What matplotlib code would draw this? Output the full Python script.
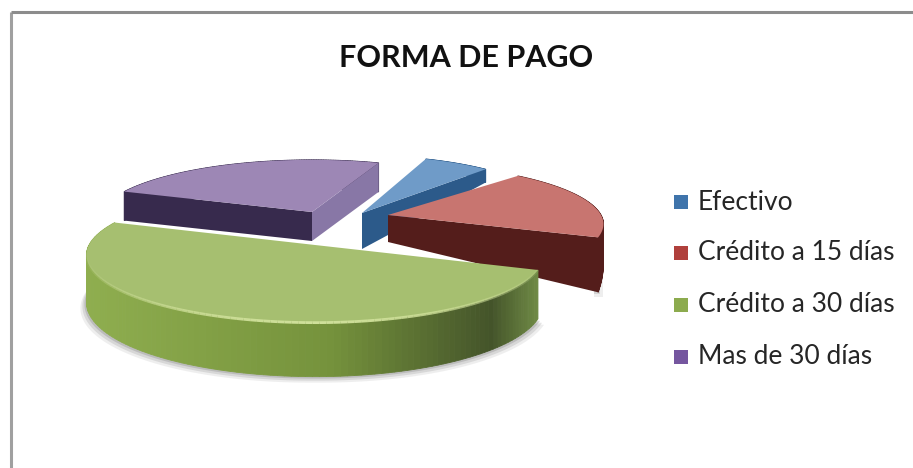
import numpy as np
import matplotlib
matplotlib.use('Agg')
import matplotlib.pyplot as plt
from matplotlib.colors import to_rgb

# Data
labels = ['Efectivo', 'Crédito a 15 días', 'Crédito a 30 días', 'Mas de 30 días']
values = [6, 19, 50, 25]
title = 'FORMA DE PAGO'

# Colours
top_colors = ['#6f9bc8', '#c87570', '#a6bf70', '#9d87b5']
wall_colors = ['#2c5a8a', '#541d1b', '#6d8a3a', '#372a4d']
legend_colors = ['#3f74ab', '#b0403c', '#8cab4e', '#75569f']

# Each slice is pulled apart by hand: apex x/y, x radius, y radius, height at apex, height change
slice_style = [
    (362, 213, 203, 66, 36, 31),
    (388, 215, 213, 59, 27, 78),
    (315, 245, 226, 66, 46, 8),
    (312, 212, 212, 60, 29, 0),
]
start_angle = 69
persp = 0.15

fig = plt.figure(figsize=(9.13, 4.68), dpi=100)
ax = fig.add_axes([0, 0, 1, 1])
ax.set_xlim(0, 913)
ax.set_ylim(468, 0)
ax.axis('off')

# Frame of the pasted chart
ax.plot([11, 11], [12, 468], color='#a0a0a0', lw=2.2, solid_capstyle='butt')
ax.plot([11, 913], [12, 12], color='#8c8c8c', lw=2.2, solid_capstyle='butt')


def project(style, t, down=False):
    cx, cy, a, b, h, dh = style
    x = np.cos(t)
    y = np.sin(t)
    s = 1 / (1 + persp * y)
    px = cx + a * x * s
    py = cy - b * y * s
    if down:
        py = py + np.maximum(h - dh * y, 4)
    return px, py


def mix(c1, c2, f):
    c1 = np.array(to_rgb(c1))
    c2 = np.array(to_rgb(c2))
    return tuple(c1 + (c2 - c1) * f)


# Angles come from the values, clockwise from the start angle
ends = start_angle - np.cumsum(values) * 3.6
starts = np.concatenate([[start_angle], ends[:-1]])

# Soft shadow below the big slice
green = slice_style[2]
t_sh = np.radians(np.linspace(starts[2], ends[2], 120))
for grow, alpha in [(6, 0.10), (4, 0.16), (2, 0.22)]:
    sx, sy = project(green, t_sh, down=True)
    ax.fill(np.concatenate([[green[0] - 200], sx + np.sign(sx - green[0]) * grow]),
            np.concatenate([[green[1] + 40], sy + grow]),
            color='#606060', alpha=alpha, lw=0)

# Shadow to the right of the red slice
red = slice_style[1]
t_r = np.radians(ends[1])
rx, ry = project(red, t_r, down=True)
for grow, alpha in [(5, 0.10), (2, 0.18)]:
    ax.fill([rx - 4, rx + grow, rx + grow, rx - 4],
            [ry + grow, ry + grow, ry - 42, ry - 42], color='#606060', alpha=alpha, lw=0)

# Back slices first, the big front one last
for i in [3, 0, 1, 2]:
    st = slice_style[i]
    cx, cy, a, b, h, dh = st
    t = np.radians(np.linspace(starts[i], ends[i], 120))
    px, py = project(st, t)
    dx, dy = project(st, t, down=True)
    hb = h

    # outer side, shaded along the arc
    for j in range(len(t) - 1):
        f = (px[j] - px.min()) / max(px.max() - px.min(), 1)
        if i == 2:
            if f < 0.55:
                col = mix('#8fae4f', '#75923c', f / 0.55)
            elif f < 0.9:
                col = mix('#75923c', '#44542a', (f - 0.55) / 0.35)
            else:
                col = mix('#44542a', '#6f8a45', (f - 0.9) / 0.1)
        else:
            col = wall_colors[i]
        ax.fill([px[j], px[j + 1], dx[j + 1], dx[j]], [py[j], py[j + 1], dy[j + 1], dy[j]],
                color=col, lw=0.6)

    # flat walls from the apex
    if i == 3:
        # purple goes from the left corner (first) round to the right corner (last)
        ax.fill([cx, px[-1], dx[-1], cx], [cy, py[-1], dy[-1], cy + hb], color='#8877a6', lw=0)
        ax.fill([cx, px[0], dx[0], cx], [cy, py[0], dy[0], cy + hb], color=wall_colors[i], lw=0)
    if i == 0:
        ax.fill([cx, px[-1], dx[-1], cx], [cy, py[-1], dy[-1], cy + hb], color=wall_colors[i], lw=0)
    if i == 1:
        ax.fill([cx, px[-1], dx[-1], cx], [cy, py[-1], dy[-1], cy + hb], color=wall_colors[i], lw=0)

    # top
    ax.fill(np.concatenate([[cx], px]), np.concatenate([[cy], py]), color=top_colors[i], lw=0)

    # light rim on the front arc of the big slice only
    if i == 2:
        for j in range(len(t) - 1):
            front = -np.sin(t[j])
            if front > 0.05:
                ax.plot(px[j:j + 2], py[j:j + 2], color='#cfe09a', lw=2.0,
                        alpha=min(front, 1) ** 2, solid_capstyle='butt')

# Title and legend
ax.text(466, 58, title, ha='center', va='center', fontsize=22, family='Lato', weight='bold', color='#111111')
legend_y = [202, 253, 305, 357]
for lab, c, y in zip(labels, legend_colors, legend_y):
    ax.scatter([681], [y], marker='s', s=95, color=c, linewidths=0)
    ax.text(698, y, lab, ha='left', va='center', fontsize=19, family='Lato', color='#262626')

fig.savefig('out.png', dpi=100)
